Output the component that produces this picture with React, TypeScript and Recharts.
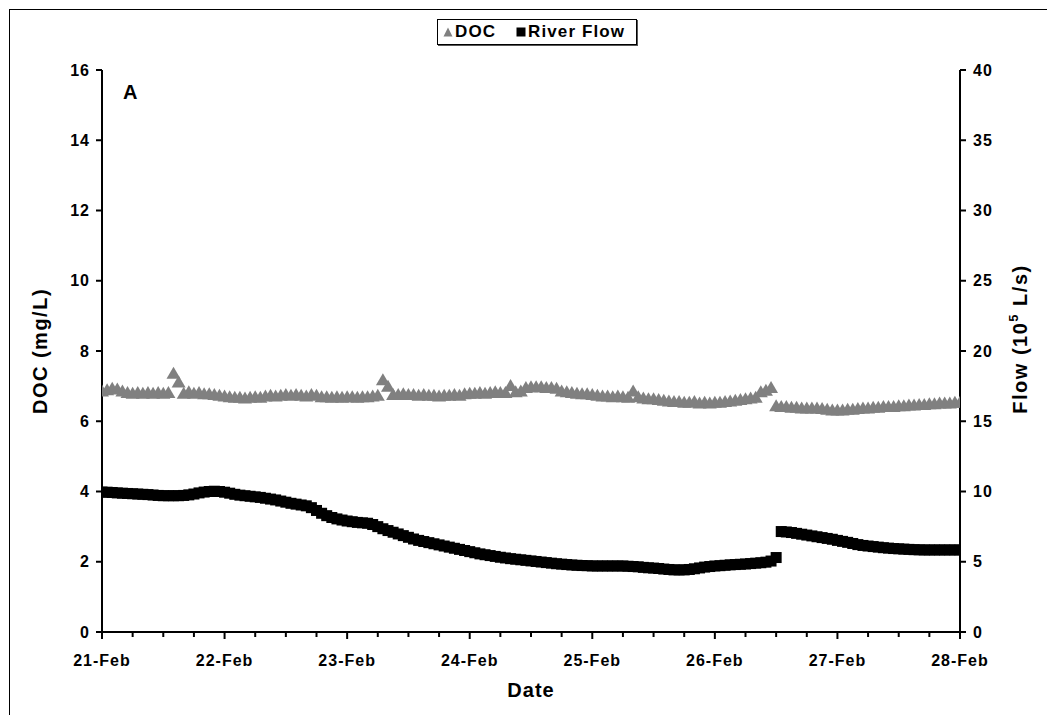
import React from 'react';
import { ComposedChart, Line, XAxis, YAxis, Legend } from 'recharts';

// Hourly readings, 21-Feb 00:00 through 28-Feb 00:00 (index = hours elapsed)
const dayLabels = ['21-Feb', '22-Feb', '23-Feb', '24-Feb', '25-Feb', '26-Feb', '27-Feb', '28-Feb'];
const docTicks = [0, 2, 4, 6, 8, 10, 12, 14, 16];
const flowTicks = [0, 5, 10, 15, 20, 25, 30, 35, 40];
const hourTicks = [
  0, 6, 12, 18, 24, 30, 36, 42, 48, 54, 60, 66, 72, 78, 84, 90, 96,
  102, 108, 114, 120, 126, 132, 138, 144, 150, 156, 162, 168,
];

// Dissolved organic carbon, mg/L
const docValues = [
  6.86, 6.9, 6.94, 6.92, 6.86, 6.82, 6.8, 6.82, 6.8, 6.82,
  6.8, 6.82, 6.8, 6.82, 7.37, 7.12, 6.8,
  6.84, 6.8, 6.82, 6.78, 6.78, 6.76, 6.74, 6.72, 6.7, 6.68,
  6.68, 6.66, 6.68, 6.7, 6.68, 6.72, 6.74, 6.72, 6.74,
  6.76, 6.74, 6.76, 6.74, 6.72, 6.76, 6.74, 6.7, 6.7,
  6.68, 6.7, 6.68, 6.7, 6.7, 6.68, 6.7, 6.7, 6.72, 6.74,
  7.18, 7.0, 6.76, 6.76, 6.78, 6.76, 6.76, 6.74, 6.76, 6.74,
  6.74, 6.72, 6.74, 6.74, 6.76, 6.74, 6.78, 6.8, 6.8, 6.82,
  6.8, 6.82, 6.84, 6.82, 6.82, 7.02, 6.84, 6.86, 6.96, 6.98,
  6.98, 6.98, 6.96, 6.96, 6.94, 6.86, 6.84, 6.82, 6.8, 6.78, 6.78, 6.76,
  6.74, 6.72, 6.72, 6.7, 6.72, 6.7, 6.68, 6.86, 6.7, 6.66, 6.64, 6.64,
  6.62, 6.6, 6.58, 6.56, 6.56, 6.54, 6.54, 6.56, 6.52, 6.54, 6.52, 6.54,
  6.54, 6.56, 6.58, 6.6, 6.62, 6.64, 6.66, 6.68, 6.84, 6.88, 6.96, 6.44,
  6.42, 6.42, 6.4, 6.4, 6.38, 6.38, 6.38, 6.38, 6.36, 6.34, 6.32, 6.32,
  6.32, 6.34, 6.34, 6.36, 6.38, 6.38, 6.4, 6.4, 6.42, 6.42, 6.42, 6.44,
  6.44, 6.46, 6.46, 6.48, 6.48, 6.5, 6.5, 6.52, 6.52, 6.52, 6.54, 6.54,
];

// River flow, 10^5 L/s
const flowValues = [
  9.96, 9.95, 9.93, 9.9, 9.88, 9.86, 9.84, 9.82, 9.8, 9.78,
  9.75, 9.72, 9.7, 9.7, 9.7, 9.7, 9.72,
  9.76, 9.82, 9.9, 9.96, 10.0, 10.02, 10.0, 9.95, 9.88, 9.8,
  9.74, 9.7, 9.66, 9.62, 9.58, 9.52, 9.46, 9.4, 9.32,
  9.24, 9.16, 9.1, 9.04, 8.98, 8.85, 8.65, 8.45, 8.28,
  8.15, 8.05, 7.97, 7.9, 7.85, 7.8, 7.77, 7.74, 7.65, 7.5,
  7.35, 7.22, 7.1, 6.98, 6.86, 6.74, 6.62, 6.52, 6.44, 6.36,
  6.28, 6.2, 6.12, 6.04, 5.96, 5.88, 5.8, 5.72, 5.64, 5.56,
  5.5, 5.44, 5.38, 5.32, 5.27, 5.22, 5.18, 5.14, 5.1, 5.06,
  5.02, 4.98, 4.94, 4.9, 4.86, 4.83, 4.8, 4.77, 4.75, 4.73, 4.72, 4.7,
  4.7, 4.7, 4.7, 4.7, 4.7, 4.7, 4.68, 4.66, 4.64, 4.6, 4.57, 4.55,
  4.52, 4.48, 4.45, 4.42, 4.42, 4.42, 4.45, 4.5, 4.56, 4.62, 4.66, 4.7,
  4.72, 4.75, 4.78, 4.8, 4.82, 4.84, 4.87, 4.9, 4.93, 4.97, 5.05, 5.3,
  7.15, 7.12, 7.08, 7.02, 6.96, 6.9, 6.84, 6.78, 6.72, 6.66, 6.6, 6.52,
  6.45, 6.38, 6.3, 6.22, 6.16, 6.12, 6.08, 6.04, 6.0, 5.97, 5.94, 5.92,
  5.9, 5.88, 5.86, 5.85, 5.84, 5.84, 5.84, 5.84, 5.84, 5.84, 5.84, 5.84,
];

const rows = docValues.map((doc, hour) => ({ hour, doc, flow: flowValues[hour] }));

const FONT = '"Liberation Sans", Arial, sans-serif';
const DOC_COLOR = '#808080';
const FLOW_COLOR = '#000000';

const TriangleDot = (props: any) => {
  const { cx, cy, index } = props;
  if (cx == null || cy == null) return <g key={`d${index}`} />;
  return (
    <polygon
      key={`d${index}`}
      points={`${cx},${cy - 6.5} ${cx - 7},${cy + 5.5} ${cx + 7},${cy + 5.5}`}
      fill={DOC_COLOR}
    />
  );
};

const SquareDot = (props: any) => {
  const { cx, cy, index } = props;
  if (cx == null || cy == null) return <g key={`f${index}`} />;
  return <rect key={`f${index}`} x={cx - 5.5} y={cy - 5.5} width={11} height={11} fill={FLOW_COLOR} />;
};

const DateTick = (props: any) => {
  const { x, y, payload } = props;
  const major = payload.value % 24 === 0;
  return (
    <g>
      <line x1={x} x2={x} y1={y} y2={y + (major ? 7 : 5)} stroke="#000" strokeWidth={2} />
      {major && (
        <text
          x={x}
          y={y + 34}
          textAnchor="middle"
          fontFamily={FONT}
          fontWeight="bold"
          fontSize={16}
          letterSpacing={1}
          fill="#000"
        >
          {dayLabels[payload.value / 24]}
        </text>
      )}
    </g>
  );
};

const tickStyle = {
  fontFamily: FONT,
  fontWeight: 'bold' as const,
  fontSize: 16,
  fill: '#000',
  letterSpacing: 1,
};

const DocTitle = (props: any) => {
  const { viewBox } = props;
  const cx = viewBox.x - 2;
  const cy = viewBox.y + viewBox.height / 2;
  return (
    <text
      x={cx}
      y={cy}
      transform={`rotate(-90, ${cx}, ${cy})`}
      textAnchor="middle"
      dominantBaseline="central"
      fontFamily={FONT}
      fontWeight="bold"
      fontSize={20}
      letterSpacing={1.5}
      fill="#000"
    >
      DOC (mg/L)
    </text>
  );
};

const FlowTitle = (props: any) => {
  const { viewBox } = props;
  const cx = viewBox.x + viewBox.width;
  const cy = viewBox.y + viewBox.height / 2 - 12;
  return (
    <text
      x={cx}
      y={cy}
      transform={`rotate(-90, ${cx}, ${cy})`}
      textAnchor="middle"
      dominantBaseline="central"
      fontFamily={FONT}
      fontWeight="bold"
      fontSize={20}
      letterSpacing={1.5}
      fill="#000"
    >
      <tspan>Flow (10</tspan>
      <tspan dy={-7} fontSize={13}>5</tspan>
      <tspan dy={7}> L/s)</tspan>
    </text>
  );
};

const DateTitle = (props: any) => {
  const { viewBox } = props;
  const cx = viewBox.x + viewBox.width / 2;
  return (
    <text
      x={cx}
      y={viewBox.y + 65}
      textAnchor="middle"
      fontFamily={FONT}
      fontWeight="bold"
      fontSize={20}
      letterSpacing={1}
      fill="#000"
    >
      Date
    </text>
  );
};

const legendItems = [
  { name: 'DOC', shape: 'triangle', color: DOC_COLOR },
  { name: 'River Flow', shape: 'square', color: FLOW_COLOR },
];

const LegendBox = () => (
  <div
    style={{
      display: 'flex',
      alignItems: 'center',
      justifyContent: 'flex-start',
      gap: 20,
      paddingLeft: 5,
      width: 200,
      height: 26,
      border: '1.5px solid #000',
      boxShadow: '1px 1px 0 #555',
      background: '#fff',
      fontFamily: FONT,
      fontWeight: 'bold',
      fontSize: 17,
      letterSpacing: 1.1,
      boxSizing: 'border-box',
    }}
  >
    {legendItems.map((item) => (
      <span key={item.name} style={{ display: 'flex', alignItems: 'center', gap: 2 }}>
        <svg width={10} height={10}>
          {item.shape === 'triangle' ? (
            <polygon points="5,0.5 0.5,9.5 9.5,9.5" fill={item.color} />
          ) : (
            <rect x={0.5} y={0.5} width={9} height={9} fill={item.color} />
          )}
        </svg>
        <span>{item.name}</span>
      </span>
    ))}
  </div>
);

export default function App() {
  return (
    <div style={{ position: 'absolute', left: 0, top: 0, width: 1047, height: 715, background: '#fff' }}>
      <div
        style={{
          position: 'absolute',
          left: 9,
          top: 9,
          width: 1040,
          height: 710,
          borderLeft: '1.5px solid #000',
          borderTop: '1.5px solid #000',
          boxSizing: 'border-box',
        }}
      />
      <ComposedChart
        width={1047}
        height={715}
        data={rows}
        margin={{ top: 70, right: 27, bottom: 23, left: 42 }}
      >
        <XAxis
          dataKey="hour"
          type="number"
          domain={[0, 168]}
          ticks={hourTicks}
          interval={0}
          tickLine={false}
          tickSize={0}
          tickMargin={0}
          tick={<DateTick />}
          axisLine={{ stroke: '#000', strokeWidth: 2 }}
          height={60}
          allowDataOverflow
          label={<DateTitle />}
        />
        <YAxis
          yAxisId="doc"
          orientation="left"
          domain={[0, 16]}
          ticks={docTicks}
          interval={0}
          width={60}
          tickSize={6}
          tickMargin={6}
          tickLine={{ stroke: '#000', strokeWidth: 2 }}
          axisLine={{ stroke: '#000', strokeWidth: 2 }}
          tick={tickStyle}
          label={<DocTitle />}
        />
        <YAxis
          yAxisId="flow"
          orientation="right"
          domain={[0, 40]}
          ticks={flowTicks}
          interval={0}
          width={60}
          tickSize={6}
          tickMargin={7}
          tickLine={{ stroke: '#000', strokeWidth: 2 }}
          axisLine={{ stroke: '#000', strokeWidth: 2 }}
          tick={tickStyle}
          label={<FlowTitle />}
        />
        <Legend
          layout="horizontal"
          verticalAlign="middle"
          align="center"
          content={<LegendBox />}
          wrapperStyle={{ top: 19, left: 437, width: 200, height: 26 }}
        />
        <Line
          yAxisId="doc"
          dataKey="doc"
          name="DOC"
          stroke="none"
          dot={TriangleDot}
          activeDot={false}
          isAnimationActive={false}
        />
        <Line
          yAxisId="flow"
          dataKey="flow"
          name="River Flow"
          stroke="none"
          dot={SquareDot}
          activeDot={false}
          isAnimationActive={false}
        />
      </ComposedChart>
      <div
        style={{
          position: 'absolute',
          left: 123,
          top: 80,
          fontFamily: FONT,
          fontWeight: 'bold',
          fontSize: 20,
          lineHeight: '24px',
        }}
      >
        A
      </div>
    </div>
  );
}
